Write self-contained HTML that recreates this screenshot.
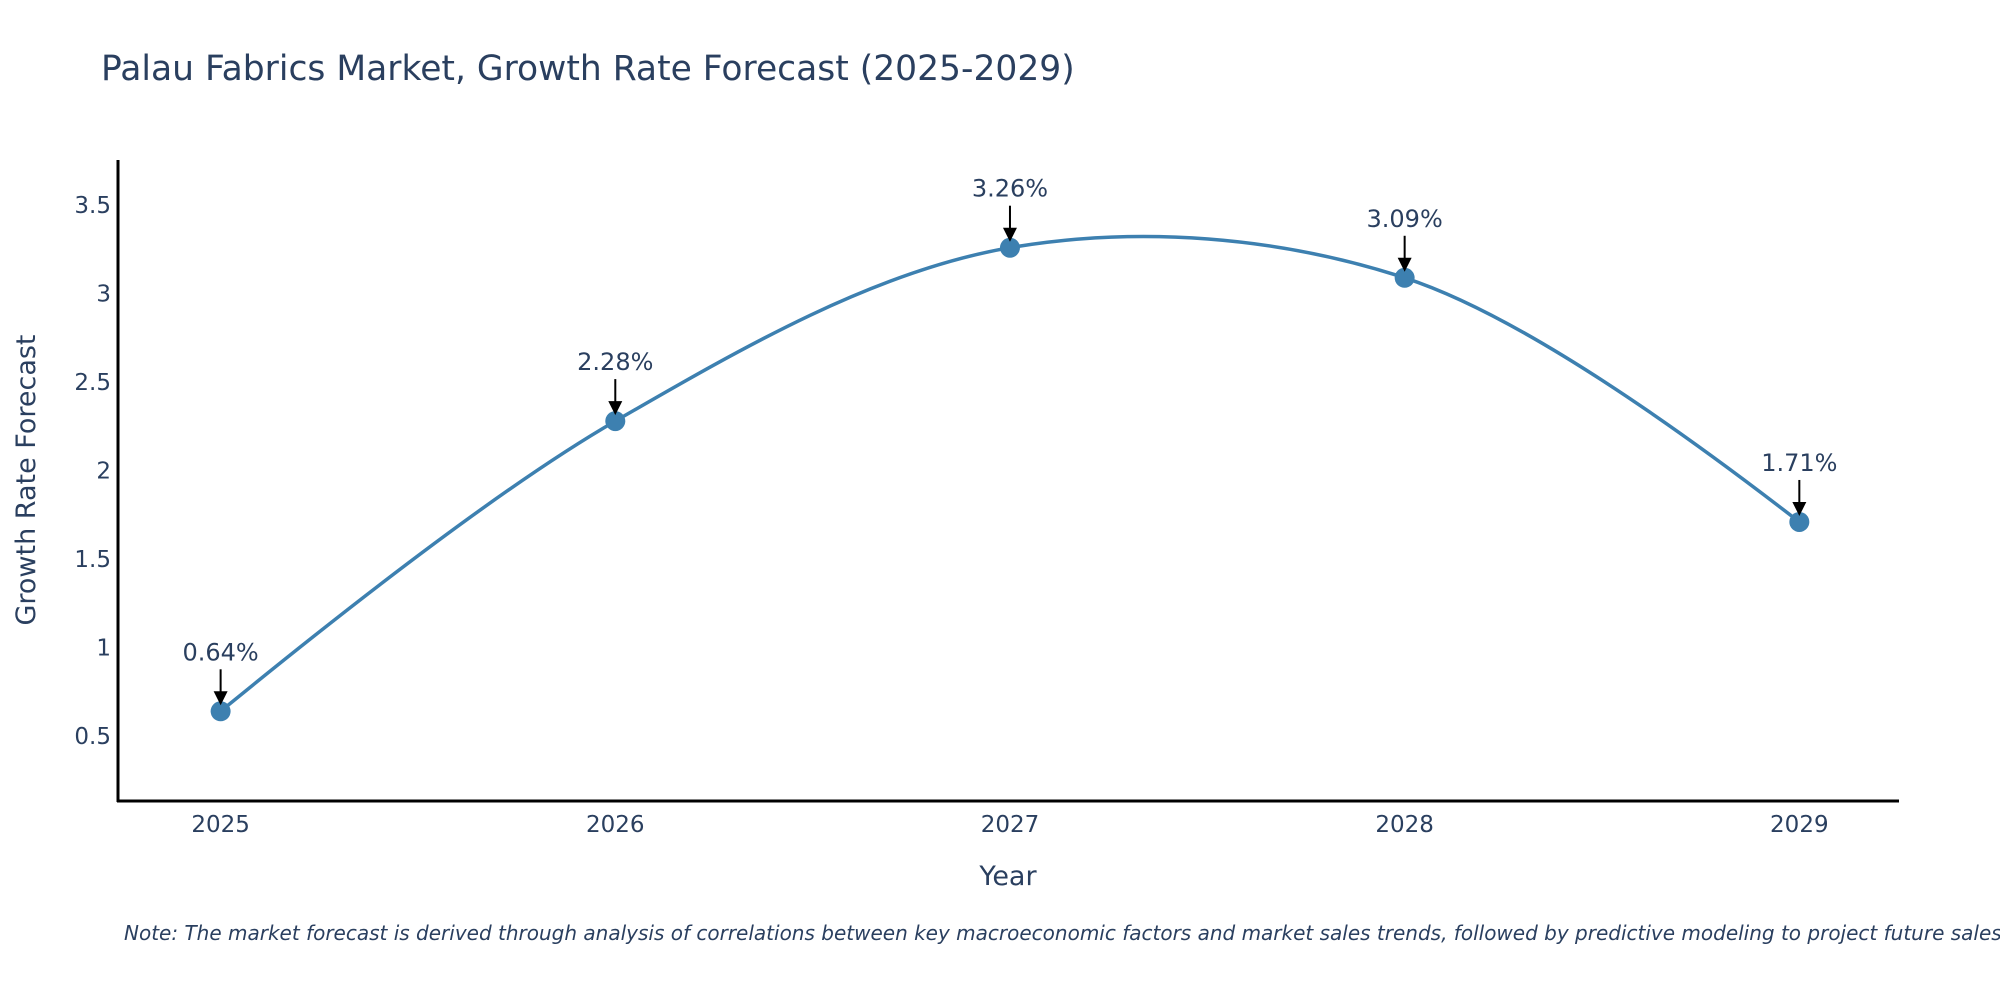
<!DOCTYPE html>
<html><head><meta charset="utf-8"><style>
html,body{margin:0;padding:0;background:#fff;width:2000px;height:1000px;overflow:hidden}
text{font-family:"DejaVu Sans","Liberation Sans",sans-serif;fill:#2a3f5f}
</style></head><body>
<svg id="chart" width="2000" height="1000" xmlns="http://www.w3.org/2000/svg">
<rect width="2000" height="1000" fill="#fff"/>
<text x="101" y="80" font-size="34.5">Palau Fabrics Market, Growth Rate Forecast (2025-2029)</text>
<g id="yticks"></g>
<g id="xticks"></g>
<line x1="118" y1="160" x2="118" y2="802" stroke="#000" stroke-width="3"/>
<line x1="117" y1="801" x2="1899" y2="801" stroke="#000" stroke-width="3"/>
<g id="series"></g>
<g id="annots"></g>
<text x="1008" y="885" font-size="27" text-anchor="middle">Year</text>
<text x="0" y="0" font-size="27" text-anchor="middle" transform="translate(35,480) rotate(-90)">Growth Rate Forecast</text>
<text x="124" y="940" font-size="20" font-style="italic">Note: The market forecast is derived through analysis of correlations between key macroeconomic factors and market sales trends, followed by predictive modeling to project future sales.</text>
</svg>
<script>
const years = [2025, 2026, 2027, 2028, 2029];
const values = [0.64, 2.28, 3.26, 3.09, 1.71];
const labels = ["0.64%", "2.28%", "3.26%", "3.09%", "1.71%"];
const yTicks = [0.5, 1, 1.5, 2, 2.5, 3, 3.5];
const yTickLabels = ["0.5", "1", "1.5", "2", "2.5", "3", "3.5"];

const X0 = 118, X1 = 1898, Y0 = 801, Y1 = 161;
const xMin = 2024.74, xMax = 2029.25, yMin = 0.133, yMax = 3.75;
function xs(v){ return X0 + (v - xMin) / (xMax - xMin) * (X1 - X0); }
function ys(v){ return Y0 - (v - yMin) / (yMax - yMin) * (Y0 - Y1); }
const NS = "http://www.w3.org/2000/svg";
function mk(tag, attrs, parent){ const e = document.createElementNS(NS, tag); for (const k in attrs) e.setAttribute(k, attrs[k]); parent.appendChild(e); return e; }

const yt = document.getElementById('yticks');
yTicks.forEach((t, i) => {
  const e = mk('text', {x: 111, y: ys(t) + 8, 'font-size': 23, 'text-anchor': 'end'}, yt);
  
  
  e.textContent = yTickLabels[i];
});
const xt = document.getElementById('xticks');
years.forEach(y => {
  const e = mk('text', {x: xs(y), y: 832, 'font-size': 23, 'text-anchor': 'middle'}, xt);
  
  
  e.textContent = String(y);
});

const pts = years.map((y, i) => [xs(y), ys(values[i])]);
function tangent(p, t, n, s){
  const d1x = p[0]-t[0], d1y = p[1]-t[1], d2x = n[0]-t[0], d2y = n[1]-t[1];
  const d1a = Math.pow(d1x*d1x + d1y*d1y, 0.25), d2a = Math.pow(d2x*d2x + d2y*d2y, 0.25);
  const numx = (d2a*d2a*d1x - d1a*d1a*d2x) * s, numy = (d2a*d2a*d1y - d1a*d1a*d2y) * s;
  const den1 = 3*d2a*(d1a+d2a), den2 = 3*d1a*(d1a+d2a);
  return [[t[0] + numx/den1, t[1] + numy/den1], [t[0] - numx/den2, t[1] - numy/den2]];
}
const tg = [];
for (let i = 1; i < pts.length - 1; i++) tg.push(tangent(pts[i-1], pts[i], pts[i+1], 1));
const P = q => q[0].toFixed(2) + ',' + q[1].toFixed(2);
let d = 'M' + P(pts[0]) + 'Q' + P(tg[0][0]) + ' ' + P(pts[1]);
for (let i = 2; i < pts.length - 1; i++) d += 'C' + P(tg[i-2][1]) + ' ' + P(tg[i-1][0]) + ' ' + P(pts[i]);
d += 'Q' + P(tg[pts.length-3][1]) + ' ' + P(pts[pts.length-1]);
const sg = document.getElementById('series');
const line = mk('path', {d: d, fill: 'none', stroke: '#3d80b0', 'stroke-width': 3.5}, sg);


pts.forEach(p => {
  const c = mk('circle', {cx: p[0], cy: p[1], r: 10, fill: '#3d80b0'}, sg);
  
  
});

const ag = document.getElementById('annots');
pts.forEach((p, i) => {
  const g = mk('g', {}, ag);
  
  
  mk('line', {x1: p[0], y1: p[1] - 42, x2: p[0], y2: p[1] - 18, stroke: '#000', 'stroke-width': 2}, g);
  mk('path', {d: `M${p[0]-7},${p[1]-20} L${p[0]+7},${p[1]-20} L${p[0]},${p[1]-6} Z`, fill: '#000'}, g);
  const t = mk('text', {x: p[0], y: p[1] - 51, 'font-size': 24, 'text-anchor': 'middle'}, g);
  t.textContent = labels[i];
});
</script>
</body></html>
